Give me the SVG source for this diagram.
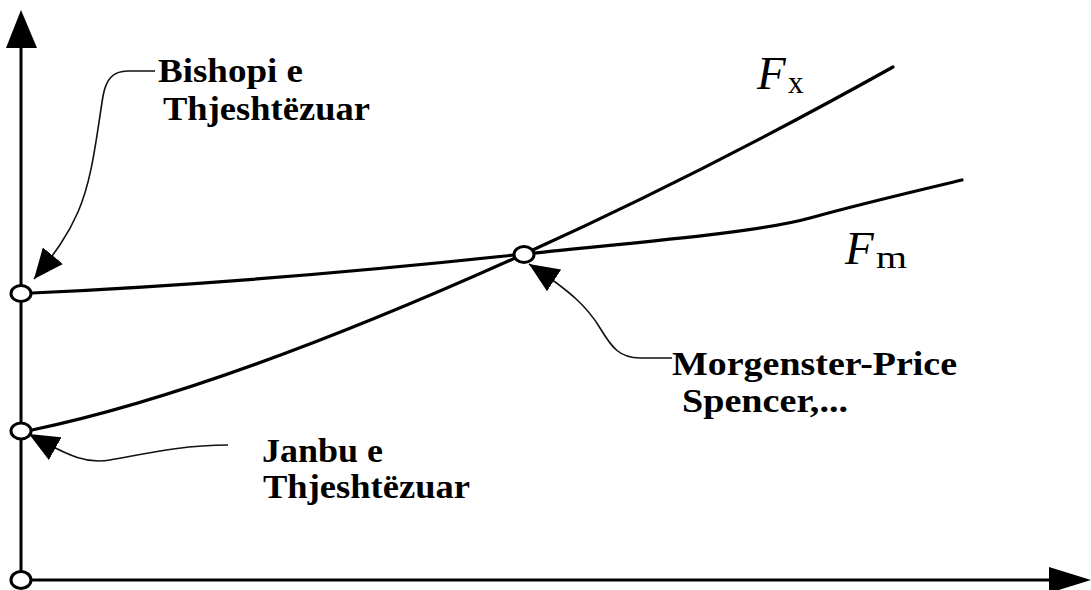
<svg xmlns="http://www.w3.org/2000/svg" width="1091" height="590" viewBox="0 0 1091 590">
  <style>
    .axis { stroke: #000; stroke-width: 3; fill: none; }
    .curve { stroke: #000; stroke-width: 3.2; fill: none; stroke-linecap: round; }
    .leader { stroke: #111; stroke-width: 1.6; fill: none; }
    .pt { fill: #fff; stroke: #000; stroke-width: 3; }
    .lbl { font-family: "Liberation Serif", "Times New Roman", serif; font-weight: bold; font-size: 34px; fill: #000; }
    .sym { font-family: "Liberation Serif", "Times New Roman", serif; font-style: italic; font-size: 47px; fill: #000; }
    .sub { font-family: "Liberation Serif", "Times New Roman", serif; font-size: 31px; fill: #000; }
  </style>
  <defs>
    <marker id="pointer" viewBox="0 0 30 26" refX="30" refY="13" markerWidth="30" markerHeight="26" markerUnits="userSpaceOnUse" orient="auto">
      <path d="M0,0 L30,13 L0,26 Z" fill="#000"/>
    </marker>
  </defs>

  <!-- axes -->
  <g id="axes">
    <line class="axis" x1="21" y1="580" x2="21" y2="44"/>
    <path d="M21,10 L37,48 L6,48 Z" fill="#000"/>
    <line class="axis" x1="21" y1="580" x2="1052" y2="580"/>
    <path d="M1091,580 L1049,567 L1049,593 Z" fill="#000"/>
  </g>

  <!-- safety factor curves -->
  <g id="curves">
    <path id="curve-fm" class="curve" d="M32,293 C250,283 450,262 524,254 C650,241 760,232 810,218 C860,204 920,190 962,180"/>
    <path id="curve-fx" class="curve" d="M32,430 C200,395 400,310 524,254 C650,197 780,130 893,67"/>
  </g>

  <!-- leader lines -->
  <g id="connectors">
    <path class="leader" marker-end="url(#pointer)" d="M155,71 L128,71 C112,71 106,80 103,96 C96,140 92,180 78,212 C68,235 56,252 34,279"/>
    <path class="leader" marker-end="url(#pointer)" d="M228,445 C180,445 140,455 110,460 C88,464 72,458 29,434"/>
    <path class="leader" marker-end="url(#pointer)" d="M672,358 L640,358 C620,358 612,348 600,328 C588,308 572,292 529,264"/>
  </g>

  <!-- marked points -->
  <g id="node-bishop">
    <ellipse class="pt" cx="21" cy="293.5" rx="10" ry="8"/>
    <text class="lbl" x="158" y="82" textLength="145" lengthAdjust="spacingAndGlyphs">Bishopi e</text>
    <text class="lbl" x="163" y="120" textLength="207" lengthAdjust="spacingAndGlyphs">Thjeshtëzuar</text>
  </g>
  <g id="node-janbu">
    <ellipse class="pt" cx="21" cy="431" rx="10" ry="8"/>
    <text class="lbl" x="262" y="462" textLength="121" lengthAdjust="spacingAndGlyphs">Janbu e</text>
    <text class="lbl" x="263" y="498" textLength="207" lengthAdjust="spacingAndGlyphs">Thjeshtëzuar</text>
  </g>
  <g id="node-intersection">
    <ellipse class="pt" cx="524" cy="254.5" rx="10" ry="8"/>
    <text class="lbl" x="672" y="375" textLength="285" lengthAdjust="spacingAndGlyphs">Morgenster-Price</text>
    <text class="lbl" x="682" y="412" textLength="166" lengthAdjust="spacingAndGlyphs">Spencer,...</text>
  </g>
  <g id="node-origin">
    <ellipse class="pt" cx="21" cy="580" rx="10" ry="8.5"/>
  </g>

  <!-- curve labels -->
  <g id="label-fx">
    <text class="sym" x="757" y="89">F</text>
    <text class="sub" x="788" y="93">x</text>
  </g>
  <g id="label-fm">
    <text class="sym" x="845" y="264">F</text>
    <text class="sub" x="876" y="268" textLength="31" lengthAdjust="spacingAndGlyphs">m</text>
  </g>
</svg>
